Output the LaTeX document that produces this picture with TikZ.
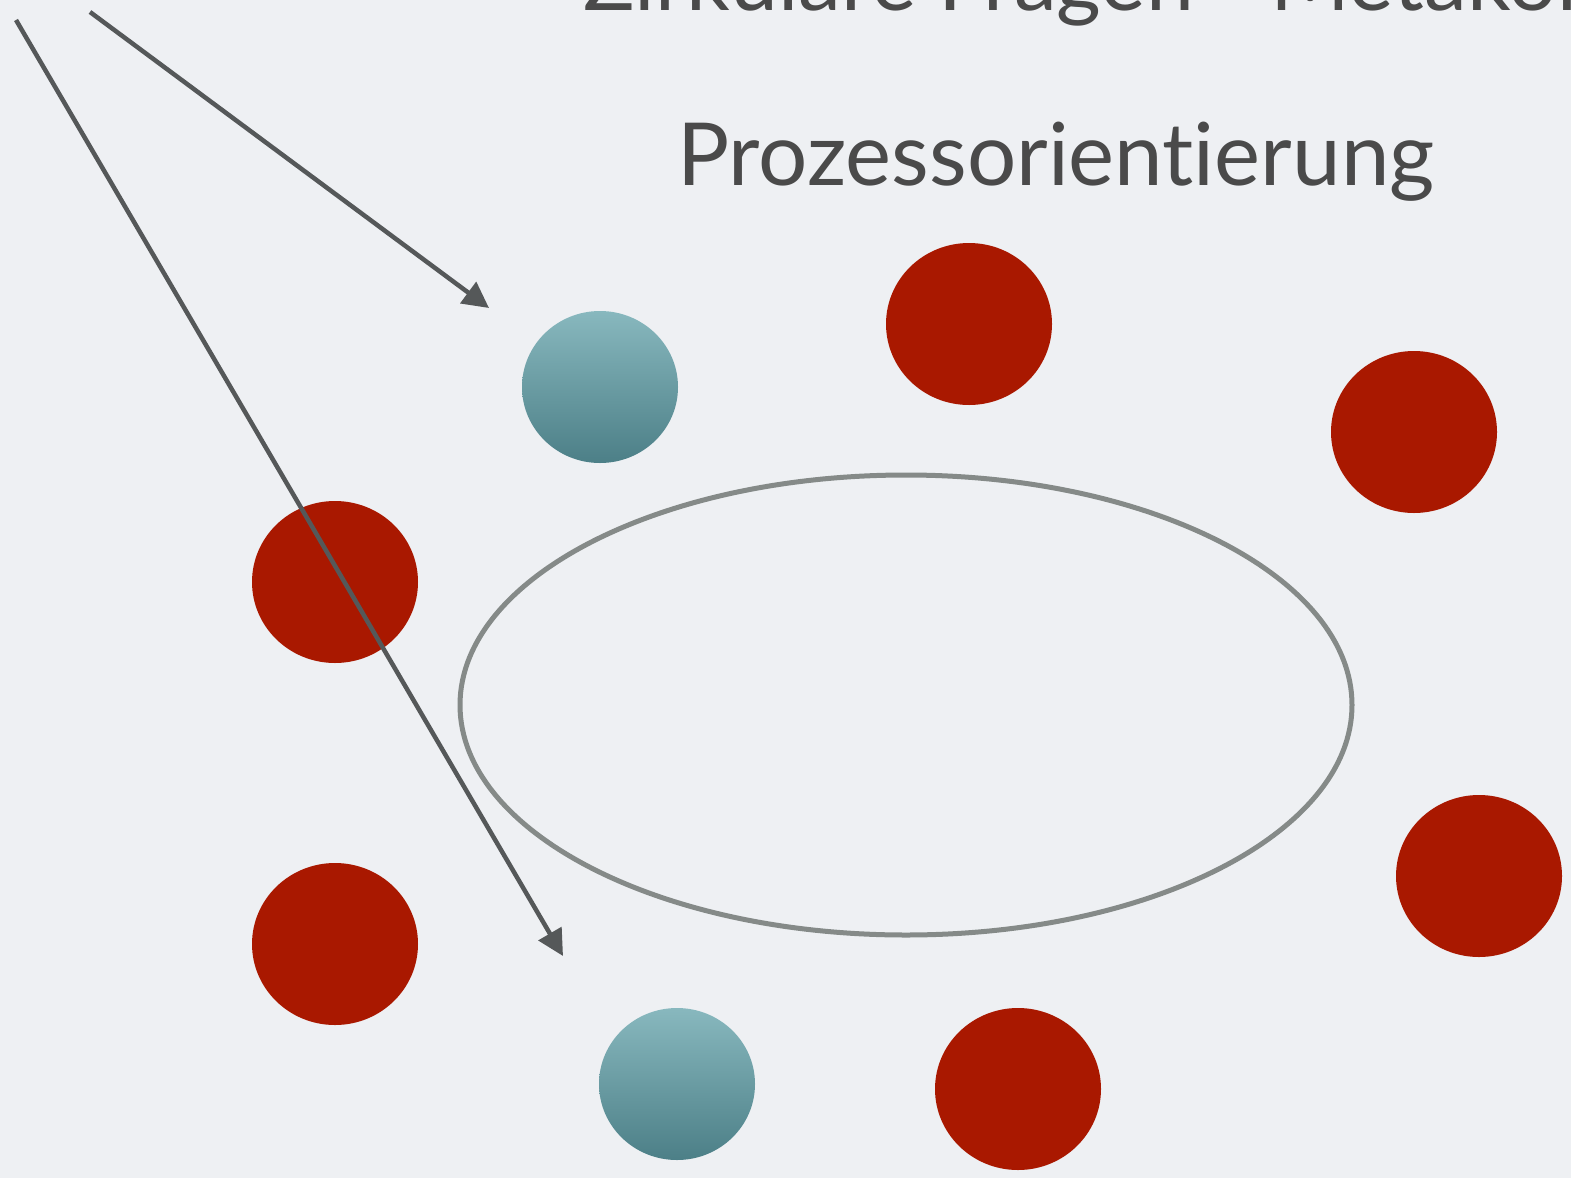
\documentclass[tikz,border=0pt]{standalone}
\usepackage{fontspec}
\setmainfont{Lato}[Ligatures={NoCommon}]
\usetikzlibrary{shapes.geometric,arrows.meta}
\definecolor{bgcol}{HTML}{EEF0F3}
\definecolor{redball}{HTML}{A91800}
\definecolor{tealtop}{HTML}{88B8BE}
\definecolor{tealbot}{HTML}{4C7F87}
\definecolor{ringcol}{HTML}{858A88}
\definecolor{arrowcol}{HTML}{555859}
\definecolor{textcol}{HTML}{4A4A4A}
\tikzset{
  red ball/.style={ellipse, fill=redball, minimum width=166pt, minimum height=162pt, inner sep=0pt},
  teal ball/.style={ellipse, top color=tealtop, bottom color=tealbot, minimum width=156pt, minimum height=152pt, inner sep=0pt},
  pointer/.style={draw=arrowcol, line width=4.5pt, -{Triangle[length=26pt, width=26pt]}},
}
\begin{document}
\begin{tikzpicture}[x=1pt, y=-1pt]
        \fill [bgcol] (0,0) rectangle (1571,1178);
        \useasboundingbox (0,0) rectangle (1571,1178);
        \begin{scope}
        \clip (0,0) rectangle (1571,1178);
        \node (head) [anchor=base west, text=textcol, font=\fontsize{86}{100}\selectfont, inner sep=0pt] at (583,10) {Zirkuläre Fragen - Metakommunikation};
        \end{scope}
        \node (title) [anchor=base, text=textcol, font=\fontsize{87}{100}\selectfont, inner sep=0pt] at (1056,185) {Prozessorientierung};

        \node (ring) [ellipse, draw=ringcol, line width=5pt, minimum width=892pt, minimum height=460pt] at (906,705) {};

        \node (t1) [teal ball] at (600,387) {};
        \node (r1) [red ball] at (969,324) {};
        \node (r2) [red ball] at (1414,432) {};
        \node (r3) [red ball] at (335,582) {};
        \node (r4) [red ball] at (1479,876) {};
        \node (r5) [red ball] at (335,944) {};
        \node (t2) [teal ball] at (677,1084) {};
        \node (r6) [red ball] at (1018,1089) {};

        \coordinate (s1) at (90,12);
        \coordinate (e1) at (489,308);
        \coordinate (s2) at (16,20);
        \coordinate (e2) at (563,956);

        \draw [pointer] (s1) -- (e1);
        \draw [pointer] (s2) -- (e2);
    \end{tikzpicture}
\end{document}
